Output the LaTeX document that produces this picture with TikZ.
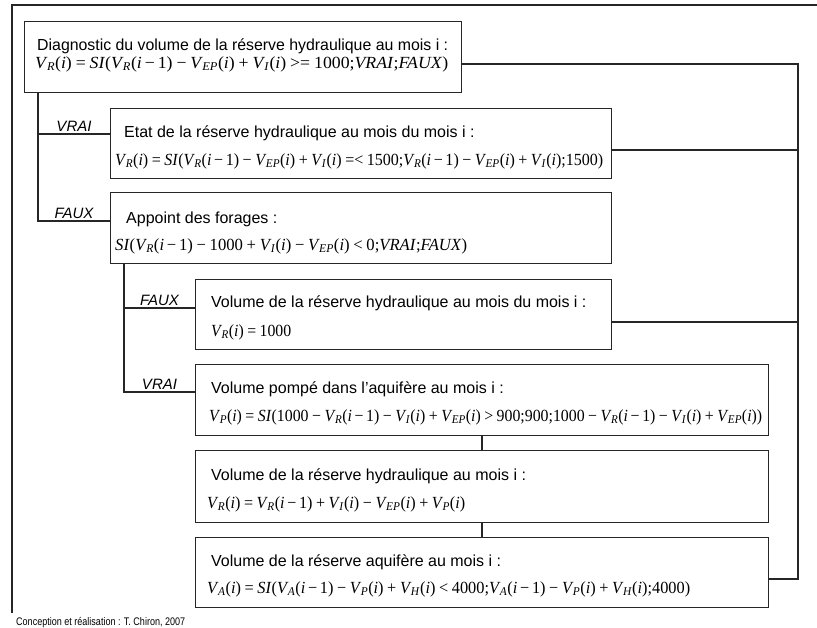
\documentclass[tikz,border=0pt]{standalone}
\usepackage{fontspec}
\usepackage{graphicx}
\setmainfont{Liberation Sans}
\newfontfamily\formfont{Liberation Serif}

\newcommand{\V}[1]{\textit{V}\kern-0.04em\textsubscript{\textit{#1}}}
\newcommand{\ai}{(\textit{i})}
\newcommand{\am}{(\textit{i}\,−\,1)}
\newcommand{\op}[1]{\hspace{0.22em}#1\hspace{0.22em}}
\newcommand{\fit}[2]{\resizebox{#1}{\height}{#2}}

\begin{document}
\begin{tikzpicture}[x=1pt, y=-1pt,
    box/.style={draw=black!85, line width=1.3pt, anchor=north west, inner sep=0pt},
    head/.style={anchor=base west, inner sep=0pt, font=\fontsize{16}{19}\selectfont},
    form/.style={anchor=base west, inner sep=0pt, font=\formfont\fontsize{17}{20}\selectfont},
    lab/.style={font=\itshape\fontsize{15}{18}\selectfont, inner sep=2pt},
    link/.style={draw=black!85, line width=1.1pt}]

    \useasboundingbox (0,0) rectangle (817,627);
    \draw[link, line width=1.3pt] (12,613) -- (12,5) -- (822,5);

    % boxes
    \node[box, minimum width=437pt, minimum height=71pt] (b1) at (24,21) {};
    \node[box, minimum width=501pt, minimum height=70pt] (b2) at (110,108) {};
    \node[box, minimum width=501pt, minimum height=71pt] (b3) at (110,192) {};
    \node[box, minimum width=416pt, minimum height=70pt] (b4) at (195,279) {};
    \node[box, minimum width=573pt, minimum height=71pt] (b5) at (195,364) {};
    \node[box, minimum width=573pt, minimum height=72pt] (b6) at (195,450) {};
    \node[box, minimum width=573pt, minimum height=70pt] (b7) at (195,537) {};

    % texts
    \node[head] (t1) at (37,50) {\fit{411pt}{Diagnostic du volume de la réserve hydraulique au mois i :}};
    \node[form] (f1) at (35,68) {\fit{413pt}{\V{R}\ai\op{=}\textit{SI}(\V{R}\am\op{−}\V{EP}\ai\op{+}\V{I}\ai\op{>=}1000;\textit{VRAI};\textit{FAUX})}};
    \node[head] (t2) at (124,137) {Etat de la réserve hydraulique au mois du mois i :};
    \node[form] (f2) at (115,165) {\fit{488pt}{\V{R}\ai\op{=}\textit{SI}(\V{R}\am\op{−}\V{EP}\ai\op{+}\V{I}\ai\op{=<}1500;\V{R}\am\op{−}\V{EP}\ai\op{+}\V{I}\ai;1500)}};
    \node[head] (t3) at (126,223) {Appoint des forages :};
    \node[form] (f3) at (115,250) {\fit{352pt}{\textit{SI}(\V{R}\am\op{−}1000\op{+}\V{I}\ai\op{−}\V{EP}\ai\op{<}0;\textit{VRAI};\textit{FAUX})}};
    \node[head] (t4) at (211,307) {Volume de la réserve hydraulique au mois du mois i :};
    \node[form] (f4) at (211,336) {\fit{80pt}{\V{R}\ai\op{=}1000}};
    \node[head] (t5) at (211,393) {Volume pompé dans l'aquifère au mois i :};
    \node[form] (f5) at (209,421) {\fit{553pt}{\V{P}\ai\op{=}\textit{SI}(1000\op{−}\V{R}\am\op{−}\V{I}\ai\op{+}\V{EP}\ai\op{>}900;900;1000\op{−}\V{R}\am\op{−}\V{I}\ai\op{+}\V{EP}\ai)}};
    \node[head] (t6) at (211,480) {Volume de la réserve hydraulique au mois i :};
    \node[form] (f6) at (207,508) {\fit{258pt}{\V{R}\ai\op{=}\V{R}\am\op{+}\V{I}\ai\op{−}\V{EP}\ai\op{+}\V{P}\ai}};
    \node[head] (t7) at (211,566) {Volume de la réserve aquifère au mois i :};
    \node[form] (f7) at (207,593) {\fit{483pt}{\V{A}\ai\op{=}\textit{SI}(\V{A}\am\op{−}\V{P}\ai\op{+}\V{H}\ai\op{<}4000;\V{A}\am\op{−}\V{P}\ai\op{+}\V{H}\ai;4000)}};

    % branches
    \coordinate (vrai1) at (38,134);
    \coordinate (faux1) at (38,221);
    \coordinate (faux2) at (124,308);
    \coordinate (vrai2) at (124,392);
    \draw[link] (b1.south -| vrai1) -- (faux1) -- (faux1 -| b3.west);
    \draw[link] (vrai1) -- (vrai1 -| b2.west);
    \draw[link] (b3.south -| faux2) -- (vrai2) -- (vrai2 -| b5.west);
    \draw[link] (faux2) -- (faux2 -| b4.west);
    \path (vrai1) -- (vrai1 -| b2.west) node[lab, midway, above] (l1) {VRAI};
    \path (faux1) -- (faux1 -| b3.west) node[lab, midway, above] (l2) {FAUX};
    \path (faux2) -- (faux2 -| b4.west) node[lab, midway, above] (l3) {FAUX};
    \path (vrai2) -- (vrai2 -| b5.west) node[lab, midway, above] (l4) {VRAI};

    % chain
    \coordinate (mid) at (482,0);
    \draw[link] (b5.south -| mid) -- (b6.north -| mid);
    \draw[link] (b6.south -| mid) -- (b7.north -| mid);

    % return line
    \coordinate (r1) at (798,64);
    \coordinate (r2) at (798,150);
    \coordinate (r4) at (798,322);
    \coordinate (r7) at (798,579);
    \draw[link, line width=1.3pt] (r1 -| b1.east) -- (r1) -- (r7) -- (r7 -| b7.east);
    \draw[link] (r2 -| b2.east) -- (r2);
    \draw[link] (r4 -| b4.east) -- (r4);

    \node[anchor=base west, inner sep=0pt, font=\fontsize{11}{13}\selectfont] (cap) at (16,625) {\fit{169pt}{Conception et réalisation : T. Chiron, 2007}};

\end{tikzpicture}
\end{document}
